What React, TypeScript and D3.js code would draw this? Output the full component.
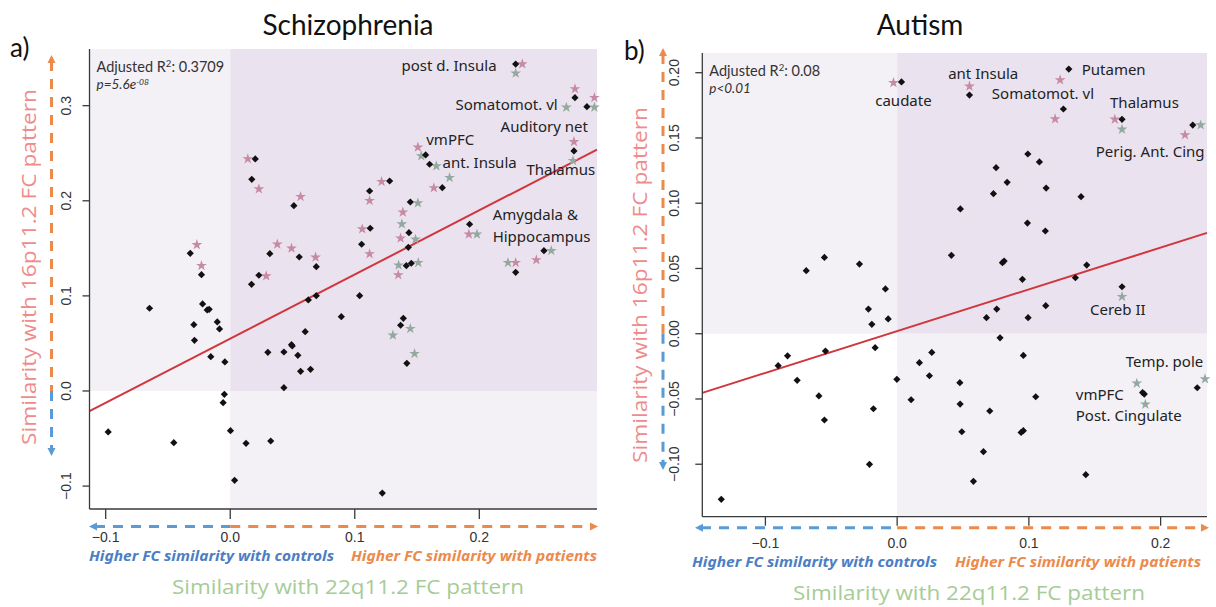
import React from "react";
import * as d3 from "d3";

// ---------- data: Schizophrenia panel ----------
// each point: [similarity with 22q11.2 pattern, similarity with 16p11.2 pattern]
const schizoRegions: [number, number][] = [
  [-0.0648, 0.087], [-0.0321, 0.1448], [-0.0231, 0.1223], [-0.0222, 0.0915],
  [-0.0185, 0.0852], [-0.0169, 0.0859], [-0.0292, 0.0697], [-0.0104, 0.0726],
  [-0.0086, 0.0652], [-0.0287, 0.0533], [-0.0156, 0.0361], [-0.0043, 0.0305],
  [-0.0047, -0.0035], [-0.0057, -0.0123], [-0.098, -0.0431], [-0.0453, -0.0544],
  [0.0002, -0.0417], [0.0127, -0.055], [0.0325, -0.0526], [0.0035, -0.0939],
  [0.1221, -0.1073], [0.0171, 0.1122], [0.0201, 0.244], [0.0173, 0.2226],
  [0.0511, 0.1948], [0.0318, 0.1444], [0.0554, 0.1409], [0.0691, 0.1307],
  [0.023, 0.1217], [0.0627, 0.0957], [0.0691, 0.1002], [0.1039, 0.1002],
  [0.0892, 0.0781], [0.0602, 0.0624], [0.0302, 0.0407], [0.0431, 0.041],
  [0.0492, 0.0487], [0.0498, 0.0473], [0.0543, 0.0375], [0.0565, 0.0207],
  [0.0645, 0.0228], [0.0431, 0.0035], [0.1119, 0.2103], [0.1124, 0.1711],
  [0.1055, 0.1543], [0.128, 0.2208], [0.1446, 0.1987], [0.1435, 0.1665],
  [0.143, 0.1511], [0.1414, 0.1318], [0.1454, 0.1343], [0.139, 0.0764],
  [0.1368, 0.0691], [0.1418, 0.0291], [0.1569, 0.2482], [0.1601, 0.2384],
  [0.1703, 0.2138], [0.1922, 0.1753], [0.2292, 0.3438], [0.2768, 0.3084],
  [0.2864, 0.2989], [0.276, 0.2524], [0.2519, 0.1475], [0.2292, 0.1248],
];

// regions also significant for the 16p11.2 contrast
const schizoStars16p: [number, number][] = [
  [-0.0268, 0.1538], [-0.0231, 0.1318], [0.0141, 0.244], [0.023, 0.2124],
  [0.0565, 0.2043], [0.0378, 0.1543], [0.0492, 0.1501], [0.0685, 0.1406],
  [0.0289, 0.1209], [0.1119, 0.2001], [0.106, 0.1703], [0.1119, 0.1441],
  [0.1215, 0.2201], [0.2345, 0.3438], [0.2768, 0.3176], [0.2924, 0.3084],
  [0.276, 0.2621], [0.1507, 0.2563], [0.1635, 0.2135], [0.1386, 0.1879],
  [0.1368, 0.1606], [0.1349, 0.122], [0.1916, 0.1648], [0.2458, 0.1378],
  [0.2292, 0.1349],
];

// regions also significant for the 22q11.2 contrast
const schizoStars22q: [number, number][] = [
  [0.2292, 0.3341], [0.2699, 0.2983], [0.2924, 0.2983], [0.2752, 0.2422],
  [0.1534, 0.2471], [0.1655, 0.2366], [0.1761, 0.2243], [0.1507, 0.1977],
  [0.1378, 0.1756], [0.1488, 0.1595], [0.1352, 0.1322], [0.151, 0.1349],
  [0.1981, 0.1648], [0.2578, 0.1475], [0.223, 0.1349], [0.1446, 0.0655],
  [0.1306, 0.0586], [0.148, 0.0392],
];

const schizoNames: { text: string; at: [number, number]; anchor: string }[] = [
  { text: "post d. Insula", at: [0.2139, 0.3417], anchor: "end" },
  { text: "Somatomot. vl", at: [0.2629, 0.3007], anchor: "end" },
  { text: "Auditory net", at: [0.2171, 0.2779], anchor: "start" },
  { text: "vmPFC", at: [0.1574, 0.2639], anchor: "start" },
  { text: "ant. Insula", at: [0.1705, 0.2401], anchor: "start" },
  { text: "Thalamus", at: [0.2378, 0.2324], anchor: "start" },
  { text: "Amygdala &", at: [0.2107, 0.1851], anchor: "start" },
  { text: "Hippocampus", at: [0.2107, 0.1623], anchor: "start" },
];

const schizoFit = { intercept: 0.055, slope: 0.675 };
const schizoXTicks = [-0.1, 0.0, 0.1, 0.2];
const schizoYTicks = [-0.1, 0.0, 0.1, 0.2, 0.3];

// ---------- data: Autism panel ----------
const autismRegions: [number, number][] = [
  [0.0033, 0.1929], [0.0549, 0.1829], [0.1303, 0.2028], [0.1262, 0.1722],
  [0.1707, 0.1643], [0.2244, 0.1599], [0.0992, 0.1377], [0.108, 0.1316],
  [0.0751, 0.1272], [0.0835, 0.116], [0.1131, 0.1116], [0.0731, 0.1073],
  [0.1396, 0.105], [0.048, 0.0956], [0.0989, 0.0848], [0.1125, 0.0787],
  [0.0412, 0.0601], [0.0799, 0.0544], [0.0812, 0.0557], [0.0951, 0.0417],
  [0.1439, 0.0526], [0.1353, 0.0429], [0.1707, 0.036], [0.0756, 0.0189],
  [0.0678, 0.0123], [0.0994, 0.0123], [0.1128, 0.0215], [0.0781, -0.0031],
  [-0.0552, 0.0585], [-0.069, 0.0483], [-0.0286, 0.0534], [-0.0089, 0.0343],
  [-0.0218, 0.0189], [-0.0192, 0.0072], [-0.0068, 0.0113], [0.0958, -0.0166],
  [0.1052, -0.0483], [0.0263, -0.0143], [0.0169, -0.0222], [0.0245, -0.0322],
  [-0.0002, -0.0349], [0.0106, -0.0506], [0.0476, -0.0375], [0.0478, -0.0539],
  [0.0491, -0.0751], [0.0703, -0.0592], [0.0655, -0.0904], [0.0579, -0.1131],
  [0.0941, -0.0756], [0.0958, -0.0743], [0.1432, -0.108], [-0.0167, -0.0107],
  [-0.018, -0.0575], [-0.021, -0.1001], [-0.0903, -0.0245], [-0.0832, -0.0169],
  [-0.0544, -0.0133], [-0.0759, -0.0357], [-0.0594, -0.0477], [-0.0552, -0.0661],
  [-0.1335, -0.1269], [0.1876, -0.0462], [0.1863, -0.0451], [0.2278, -0.0414],
];

const autismStars16p: [number, number][] = [
  [-0.0028, 0.1923], [0.0549, 0.1896], [0.1237, 0.1944], [0.1199, 0.1645],
  [0.1652, 0.1643], [0.2185, 0.1523],
];

const autismStars22q: [number, number][] = [
  [0.1707, 0.1566], [0.2304, 0.1599], [0.1707, 0.0284], [0.1819, -0.038],
  [0.1884, -0.0541], [0.2337, -0.0347],
];

const autismNames: { text: string; at: [number, number]; anchor: string }[] = [
  { text: "caudate", at: [0.0048, 0.1783], anchor: "middle" },
  { text: "ant Insula", at: [0.0387, 0.1995], anchor: "start" },
  { text: "Putamen", at: [0.1401, 0.2021], anchor: "start" },
  { text: "Somatomot. vl", at: [0.0719, 0.1842], anchor: "start" },
  { text: "Thalamus", at: [0.1616, 0.1766], anchor: "start" },
  { text: "Perig. Ant. Cing", at: [0.1508, 0.1395], anchor: "start" },
  { text: "Cereb II", at: [0.1464, 0.0187], anchor: "start" },
  { text: "Temp. pole", at: [0.1735, -0.0215], anchor: "start" },
  { text: "vmPFC", at: [0.1356, -0.0464], anchor: "start" },
  { text: "Post. Cingulate", at: [0.1356, -0.0628], anchor: "start" },
];

const autismFit = { intercept: 0.002, slope: 0.32 };
const autismXTicks = [-0.1, 0.0, 0.1, 0.2];
const autismYTicks = [-0.1, -0.05, 0.0, 0.05, 0.1, 0.15, 0.2];

// ---------- styling ----------
const QUAD_DARK = "#eae2ef";
const QUAD_LIGHT = "#f3f0f6";
const BLUE = "#5b9bd5";
const ORANGE = "#ec8a4b";
const PINK_STAR = "#c68aa2";
const GRAY_STAR = "#93a99e";
const FIT_RED = "#d1363d";
const AXIS = "#3a3a3a";
const Y_TITLE = "#ef8b8b";
const X_TITLE = "#a6cc96";

interface PanelProps {
  tag: string;
  title: string;
  titleX: number;
  tagX: number;
  tagY: number;
  left: number;
  right: number;
  top: number;
  bottom: number;
  xDomain: [number, number];
  yDomain: [number, number];
  xTicks: number[];
  yTicks: number[];
  yFmt: string;
  regions: [number, number][];
  stars16p: [number, number][];
  stars22q: [number, number][];
  names: { text: string; at: [number, number]; anchor: string }[];
  fit: { intercept: number; slope: number };
  r2: string;
  pText: React.ReactNode;
  arrowX: number;
  arrowTop: number;
  arrowBottom: number;
  arrowY: number;
  arrowLeft: number;
  arrowRight: number;
  xTickLen: number;
  xTickLabelY: number;
  yTickLabelX: number;
  yTitleX: number;
  yTitleY: number;
  sideLabelY: number;
  controlsX: number;
  patientsX: number;
  xTitleX: number;
  xTitleY: number;
}

function Arrowhead({ x, y, dir, color }: { x: number; y: number; dir: string; color: string }) {
  const L = 8;
  const Wd = 4;
  let pts = "";
  if (dir === "left") pts = `${x},${y} ${x + L},${y - Wd} ${x + L},${y + Wd}`;
  if (dir === "right") pts = `${x},${y} ${x - L},${y - Wd} ${x - L},${y + Wd}`;
  if (dir === "up") pts = `${x},${y} ${x - Wd},${y + L} ${x + Wd},${y + L}`;
  if (dir === "down") pts = `${x},${y} ${x - Wd},${y - L} ${x + Wd},${y - L}`;
  return <polygon points={pts} fill={color} />;
}

function Panel(p: PanelProps) {
  const x = d3.scaleLinear().domain(p.xDomain).range([p.left, p.right]);
  const y = d3.scaleLinear().domain(p.yDomain).range([p.bottom, p.top]);
  const x0 = x(0);
  const y0 = y(0);
  const diamondPath = d3.symbol(d3.symbolSquare, 26)() as string;
  const starPath = d3.symbol(d3.symbolStar, 36)() as string;
  const fitLine = d3
    .line<number>()
    .x((v) => x(v))
    .y((v) => y(p.fit.intercept + p.fit.slope * v))(p.xDomain) as string;
  const xFmt = d3.format(".1f");
  const yFmt = d3.format(p.yFmt);
  const dash = "10 8";

  return (
    <g>
      {/* quadrant shading */}
      <rect x={p.left} y={p.top} width={x0 - p.left} height={y0 - p.top} fill={QUAD_LIGHT} />
      <rect x={x0} y={p.top} width={p.right - x0} height={y0 - p.top} fill={QUAD_DARK} />
      <rect x={x0} y={y0} width={p.right - x0} height={p.bottom - y0} fill={QUAD_LIGHT} />

      {/* regression line */}
      <path d={fitLine} stroke={FIT_RED} strokeWidth={2} fill="none" />

      {/* stars */}
      {p.stars16p.map((d, i) => (
        <path key={"p" + i} d={starPath} transform={`translate(${x(d[0])},${y(d[1])})`} fill={PINK_STAR} />
      ))}
      {p.stars22q.map((d, i) => (
        <path key={"g" + i} d={starPath} transform={`translate(${x(d[0])},${y(d[1])})`} fill={GRAY_STAR} />
      ))}

      {/* regions */}
      {p.regions.map((d, i) => (
        <path
          key={"d" + i}
          d={diamondPath}
          transform={`translate(${x(d[0])},${y(d[1])}) rotate(45)`}
          fill="#111"
        />
      ))}

      {/* region names */}
      {p.names.map((n, i) => (
        <text
          key={"n" + i}
          x={x(n.at[0])}
          y={y(n.at[1])}
          dy="0.35em"
          textAnchor={n.anchor as any}
          fontFamily="'Noto Sans', sans-serif"
          fontSize={15}
          fill="#222"
        >
          {n.text}
        </text>
      ))}

      {/* fit statistics */}
      <text x={p.left + 7} y={p.top + 23} fontFamily="Lato, sans-serif" fontSize={14.5} fill="#333">
        Adjusted R<tspan fontSize={9.5} baselineShift="super">2</tspan>: {p.r2}
      </text>
      <text x={p.left + 7} y={p.top + 40} fontFamily="Lato, sans-serif" fontSize={13.5} fontStyle="italic" fill="#333">
        {p.pText}
      </text>

      {/* axes */}
      <line x1={p.left} x2={p.left} y1={p.top} y2={p.bottom} stroke={AXIS} strokeWidth={1.3} />
      <line x1={p.left} x2={p.right} y1={p.bottom} y2={p.bottom} stroke={AXIS} strokeWidth={1.3} />
      {p.yTicks.map((t) => (
        <g key={"yt" + t}>
          <line x1={p.left - 7} x2={p.left} y1={y(t)} y2={y(t)} stroke={AXIS} strokeWidth={1.3} />
          <text
            transform={`translate(${p.yTickLabelX},${y(t)}) rotate(-90)`}
            textAnchor="middle"
            fontFamily="'Liberation Sans', Arial, sans-serif"
            fontSize={14}
            fill="#333"
          >
            {yFmt(t)}
          </text>
        </g>
      ))}
      {p.xTicks.map((t) => (
        <g key={"xt" + t}>
          <line x1={x(t)} x2={x(t)} y1={p.bottom} y2={p.bottom + p.xTickLen} stroke={AXIS} strokeWidth={1.3} />
          <text
            x={x(t)}
            y={p.xTickLabelY}
            dy="0.35em"
            textAnchor="middle"
            fontFamily="'Liberation Sans', Arial, sans-serif"
            fontSize={14}
            fill="#333"
          >
            {xFmt(t)}
          </text>
        </g>
      ))}

      {/* horizontal direction arrow */}
      <line x1={p.arrowLeft + 6} x2={x0} y1={p.arrowY} y2={p.arrowY} stroke={BLUE} strokeWidth={3} strokeDasharray={dash} />
      <line x1={x0} x2={p.arrowRight - 6} y1={p.arrowY} y2={p.arrowY} stroke={ORANGE} strokeWidth={3} strokeDasharray={dash} />
      <Arrowhead x={p.arrowLeft} y={p.arrowY} dir="left" color={BLUE} />
      <Arrowhead x={p.arrowRight} y={p.arrowY} dir="right" color={ORANGE} />

      {/* vertical direction arrow */}
      <line x1={p.arrowX} x2={p.arrowX} y1={p.arrowTop + 6} y2={y0} stroke={ORANGE} strokeWidth={3} strokeDasharray={dash} />
      <line x1={p.arrowX} x2={p.arrowX} y1={y0} y2={p.arrowBottom - 6} stroke={BLUE} strokeWidth={3} strokeDasharray={dash} />
      <Arrowhead x={p.arrowX} y={p.arrowTop} dir="up" color={ORANGE} />
      <Arrowhead x={p.arrowX} y={p.arrowBottom} dir="down" color={BLUE} />

      {/* side captions */}
      <text
        x={p.controlsX}
        y={p.sideLabelY}
        dy="0.35em"
        fontFamily="'Noto Sans', sans-serif"
        fontWeight="bold"
        fontStyle="italic"
        fontSize={15}
        fill="#4d7ec4"
        textLength={245}
        lengthAdjust="spacingAndGlyphs"
      >
        Higher FC similarity with controls
      </text>
      <text
        x={p.patientsX}
        y={p.sideLabelY}
        dy="0.35em"
        fontFamily="'Noto Sans', sans-serif"
        fontWeight="bold"
        fontStyle="italic"
        fontSize={15}
        fill={ORANGE}
        textLength={246}
        lengthAdjust="spacingAndGlyphs"
      >
        Higher FC similarity with patients
      </text>

      {/* axis titles */}
      <text
        x={p.xTitleX}
        y={p.xTitleY}
        dy="0.35em"
        textAnchor="middle"
        fontFamily="'Open Sans', sans-serif"
        fontSize={20}
        fill={X_TITLE}
        textLength={352}
        lengthAdjust="spacingAndGlyphs"
      >
        Similarity with 22q11.2 FC pattern
      </text>
      <text
        transform={`translate(${p.yTitleX},${p.yTitleY}) rotate(-90)`}
        dy="0.35em"
        textAnchor="middle"
        fontFamily="'Open Sans', sans-serif"
        fontSize={20}
        fill={Y_TITLE}
        textLength={356}
        lengthAdjust="spacingAndGlyphs"
      >
        Similarity with 16p11.2 FC pattern
      </text>

      {/* panel title and tag */}
      <text x={p.titleX} y={35} textAnchor="middle" fontFamily="Lato, sans-serif" fontSize={28} fill="#111">
        {p.title}
      </text>
      <text x={p.tagX} y={p.tagY} fontFamily="Lato, sans-serif" fontSize={26} fill="#111">
        {p.tag}
      </text>
    </g>
  );
}

export default function App() {
  return (
    <svg
      width={1216}
      height={607}
      style={{ position: "absolute", left: 0, top: 0, background: "#fff" }}
    >
      <rect width={1216} height={607} fill="#fff" />
      <Panel
        tag="a)"
        title="Schizophrenia"
        titleX={348}
        tagX={10}
        tagY={57}
        left={89.5}
        right={597}
        top={49}
        bottom={509}
        xDomain={[-0.113, 0.2945]}
        yDomain={[-0.1241, 0.3596]}
        xTicks={schizoXTicks}
        yTicks={schizoYTicks}
        yFmt=".1f"
        regions={schizoRegions}
        stars16p={schizoStars16p}
        stars22q={schizoStars22q}
        names={schizoNames}
        fit={schizoFit}
        r2="0.3709"
        pText={
          <>
            p=5.6e<tspan fontSize={8.5} dy={-4}>-08</tspan>
          </>
        }
        arrowX={51.5}
        arrowTop={55}
        arrowBottom={456}
        arrowY={526.5}
        arrowLeft={89}
        arrowRight={598}
        xTickLen={10}
        xTickLabelY={537}
        yTickLabelX={71}
        yTitleX={29}
        yTitleY={267}
        sideLabelY={556}
        controlsX={89}
        patientsX={351}
        xTitleX={348}
        xTitleY={587}
      />
      <Panel
        tag="b)"
        title="Autism"
        titleX={920}
        tagX={624}
        tagY={60}
        left={702.3}
        right={1207}
        top={53}
        bottom={516.7}
        xDomain={[-0.1479, 0.2352]}
        yDomain={[-0.1402, 0.2151]}
        xTicks={autismXTicks}
        yTicks={autismYTicks}
        yFmt=".2f"
        regions={autismRegions}
        stars16p={autismStars16p}
        stars22q={autismStars22q}
        names={autismNames}
        fit={autismFit}
        r2="0.08"
        pText={<>p&lt;0.01</>}
        arrowX={663}
        arrowTop={48}
        arrowBottom={470}
        arrowY={527.7}
        arrowLeft={695}
        arrowRight={1209}
        xTickLen={9}
        xTickLabelY={543.5}
        yTickLabelX={679}
        yTitleX={640}
        yTitleY={285}
        sideLabelY={562}
        controlsX={692}
        patientsX={955}
        xTitleX={969}
        xTitleY={593}
      />
    </svg>
  );
}
